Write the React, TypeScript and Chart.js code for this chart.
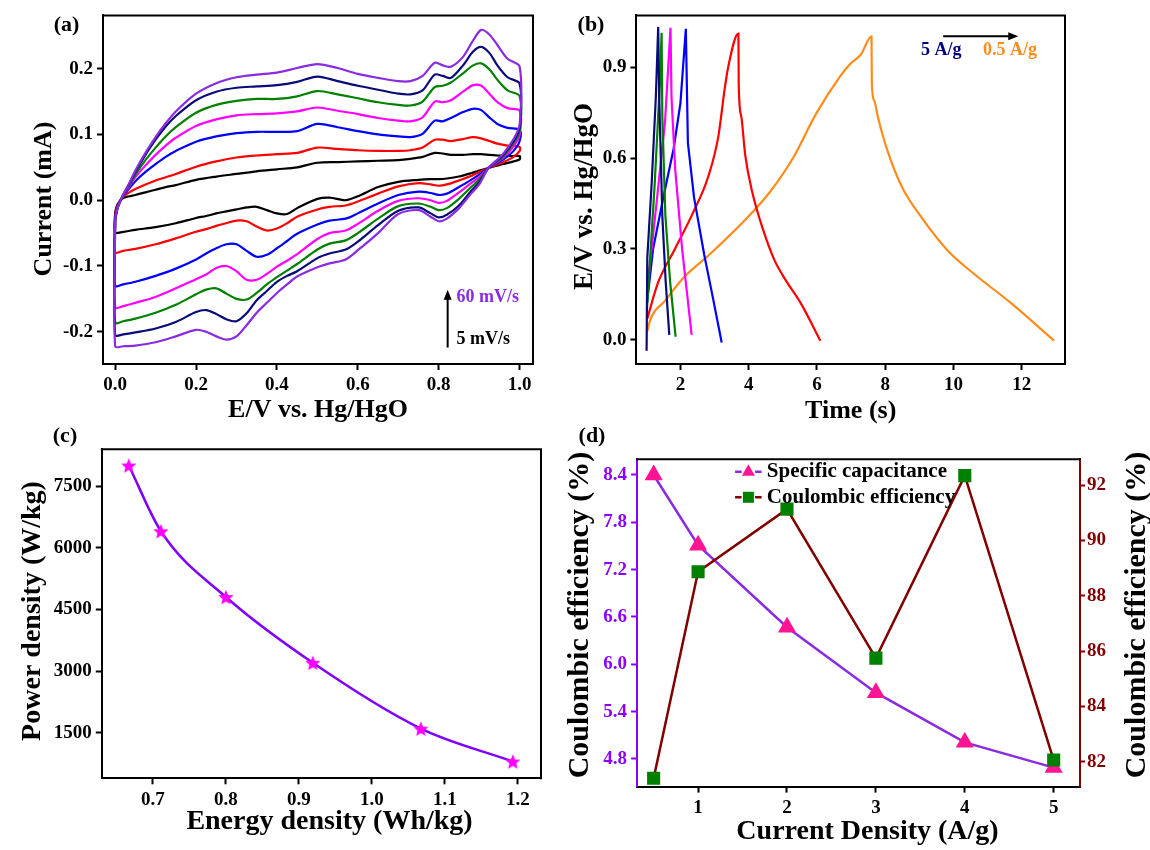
import React, { useEffect, useRef } from "react";
import { Chart, registerables } from "chart.js";

Chart.register(...registerables);

const FONT = "'Liberation Serif', 'Times New Roman', Times, serif";

// ---------------- (a) Cyclic voltammetry ----------------
const CV_UP_E = [0, 0.006, 0.019, 0.035, 0.05, 0.075, 0.1, 0.125, 0.15, 0.2, 0.25, 0.3, 0.35, 0.4, 0.45, 0.5, 0.55, 0.6, 0.65, 0.7, 0.73, 0.76, 0.79, 0.81, 0.83, 0.86, 0.885, 0.905, 0.925, 0.945, 0.97, 1.0];
const CV_DN_E = [1.0, 0.985, 0.96, 0.94, 0.9225, 0.9, 0.88, 0.85, 0.82, 0.8, 0.78, 0.75, 0.7, 0.65, 0.6, 0.57, 0.53, 0.5, 0.45, 0.425, 0.4, 0.375, 0.35, 0.325, 0.3, 0.275, 0.25, 0.225, 0.2, 0.15, 0.1, 0.05, 0.02, 0.0];

const CV_BLACK_UP = [-0.018, -0.006, 0.003, 0.006, 0.008, 0.012, 0.016, 0.02, 0.023, 0.031, 0.036, 0.04, 0.044, 0.047, 0.05, 0.057, 0.058, 0.059, 0.06, 0.061, 0.063, 0.066, 0.072, 0.071, 0.069, 0.069, 0.07, 0.07, 0.069, 0.068, 0.067, 0.067];
const CV_BLACK_DN = [0.062, 0.059, 0.055, 0.052, 0.049, 0.045, 0.041, 0.036, 0.033, 0.032, 0.032, 0.031, 0.028, 0.02, 0.006, 0.0, 0.004, 0.002, -0.012, -0.021, -0.02, -0.015, -0.01, -0.011, -0.014, -0.017, -0.02, -0.024, -0.027, -0.035, -0.041, -0.045, -0.048, -0.049];

const CV_RED_UP = [-0.022, -0.008, 0.005, 0.012, 0.017, 0.024, 0.03, 0.035, 0.04, 0.051, 0.059, 0.065, 0.068, 0.07, 0.072, 0.08, 0.078, 0.076, 0.075, 0.075, 0.076, 0.08, 0.092, 0.092, 0.09, 0.093, 0.096, 0.094, 0.09, 0.086, 0.083, 0.081];
const CV_RED_DN = [0.075, 0.066, 0.058, 0.053, 0.049, 0.043, 0.037, 0.03, 0.024, 0.022, 0.024, 0.026, 0.021, 0.01, -0.002, -0.008, -0.01, -0.014, -0.025, -0.035, -0.043, -0.046, -0.04, -0.032, -0.031, -0.035, -0.039, -0.044, -0.048, -0.058, -0.067, -0.074, -0.077, -0.079];

const CV_BLUE_UP = [-0.026, -0.01, 0.006, 0.018, 0.029, 0.043, 0.055, 0.066, 0.075, 0.089, 0.097, 0.102, 0.104, 0.104, 0.105, 0.116, 0.111, 0.105, 0.1, 0.097, 0.096, 0.101, 0.121, 0.12, 0.125, 0.134, 0.139, 0.137, 0.126, 0.116, 0.11, 0.107];
const CV_BLUE_DN = [0.09, 0.075, 0.062, 0.055, 0.049, 0.039, 0.031, 0.02, 0.01, 0.008, 0.011, 0.013, 0.008, -0.005, -0.02, -0.028, -0.031, -0.037, -0.051, -0.062, -0.073, -0.083, -0.086, -0.077, -0.067, -0.067, -0.073, -0.081, -0.09, -0.104, -0.115, -0.124, -0.128, -0.13];

const CV_MAGENTA_UP = [-0.028, -0.011, 0.006, 0.021, 0.035, 0.053, 0.069, 0.083, 0.095, 0.113, 0.123, 0.129, 0.131, 0.132, 0.135, 0.141, 0.136, 0.131, 0.125, 0.121, 0.12, 0.126, 0.15, 0.149, 0.152, 0.165, 0.175, 0.174, 0.162, 0.149, 0.14, 0.136];
const CV_MAGENTA_DN = [0.1, 0.082, 0.065, 0.056, 0.049, 0.035, 0.026, 0.012, -0.001, -0.004, 0.0, 0.003, -0.001, -0.016, -0.036, -0.046, -0.05, -0.059, -0.082, -0.092, -0.101, -0.112, -0.121, -0.121, -0.108, -0.1, -0.103, -0.113, -0.12, -0.134, -0.147, -0.156, -0.161, -0.163];

const CV_GREEN_UP = [-0.03, -0.012, 0.007, 0.023, 0.039, 0.061, 0.08, 0.097, 0.111, 0.133, 0.145, 0.151, 0.154, 0.154, 0.158, 0.166, 0.161, 0.155, 0.149, 0.145, 0.144, 0.15, 0.172, 0.174, 0.179, 0.193, 0.205, 0.208, 0.199, 0.183, 0.167, 0.158];
const CV_GREEN_DN = [0.105, 0.087, 0.067, 0.057, 0.049, 0.031, 0.02, 0.002, -0.012, -0.015, -0.01, -0.005, -0.009, -0.028, -0.05, -0.061, -0.066, -0.075, -0.097, -0.107, -0.117, -0.128, -0.141, -0.151, -0.15, -0.142, -0.134, -0.136, -0.143, -0.159, -0.171, -0.18, -0.184, -0.186];

const CV_NAVY_UP = [-0.03, -0.012, 0.007, 0.025, 0.043, 0.069, 0.092, 0.112, 0.128, 0.152, 0.165, 0.171, 0.173, 0.175, 0.18, 0.188, 0.181, 0.174, 0.168, 0.162, 0.161, 0.167, 0.191, 0.189, 0.186, 0.205, 0.226, 0.233, 0.224, 0.205, 0.187, 0.177];
const CV_NAVY_DN = [0.11, 0.09, 0.069, 0.058, 0.049, 0.027, 0.014, -0.008, -0.022, -0.026, -0.02, -0.011, -0.016, -0.038, -0.063, -0.075, -0.081, -0.088, -0.108, -0.115, -0.124, -0.138, -0.152, -0.172, -0.184, -0.181, -0.173, -0.167, -0.17, -0.185, -0.195, -0.201, -0.204, -0.205];

const CV_PURPLE_UP = [-0.03, -0.012, 0.007, 0.026, 0.045, 0.072, 0.096, 0.117, 0.135, 0.162, 0.178, 0.187, 0.191, 0.194, 0.201, 0.207, 0.201, 0.192, 0.186, 0.181, 0.181, 0.189, 0.209, 0.205, 0.203, 0.218, 0.243, 0.259, 0.252, 0.236, 0.215, 0.203];
const CV_PURPLE_DN = [0.115, 0.093, 0.071, 0.059, 0.049, 0.024, 0.01, -0.012, -0.028, -0.032, -0.025, -0.015, -0.021, -0.05, -0.076, -0.09, -0.096, -0.102, -0.116, -0.128, -0.141, -0.156, -0.171, -0.19, -0.207, -0.212, -0.207, -0.2, -0.197, -0.207, -0.216, -0.221, -0.222, -0.222];

const A_X_TICKS = [0, 0.2, 0.4, 0.6, 0.8, 1.0];
const A_Y_TICKS = [-0.2, -0.1, 0, 0.1, 0.2];
const A_NOTE_TEXTS = ["60 mV/s", "5 mV/s"];
const A_NOTE_E = [0.844, 0.844];
const A_NOTE_I = [-0.148, -0.212];
const A_ARROW_E = 0.822;
const A_ARROW_I = [-0.224, -0.136];

// ---------------- (b) Galvanostatic charge-discharge ----------------
const GCD_ORANGE_T = [1.04, 1.1, 1.56, 2.11, 2.88, 3.98, 4.65, 5.31, 5.97, 6.69, 6.96, 7.29, 7.6, 7.61, 7.68, 7.79, 8.07, 8.5, 9.06, 9.83, 10.6, 11.7, 12.95];
const GCD_ORANGE_E = [0.03, 0.06, 0.13, 0.207, 0.284, 0.405, 0.492, 0.602, 0.745, 0.871, 0.909, 0.942, 1.002, 0.845, 0.79, 0.734, 0.624, 0.503, 0.405, 0.295, 0.218, 0.12, -0.003];
const GCD_RED_T = [1.03, 1.35, 1.84, 2.33, 2.82, 3.11, 3.3, 3.4, 3.7, 3.71, 3.78, 3.9, 4.1, 4.43, 4.76, 5.09, 5.53, 6.1];
const GCD_RED_E = [0.07, 0.19, 0.3, 0.41, 0.54, 0.67, 0.83, 0.9, 1.011, 0.84, 0.74, 0.61, 0.49, 0.361, 0.262, 0.196, 0.12, -0.003];
const GCD_BLUE_T = [1.02, 1.2, 1.5, 1.8, 2.0, 2.16, 2.18, 2.22, 2.4, 2.7, 2.95, 3.21];
const GCD_BLUE_E = [0.12, 0.3, 0.47, 0.63, 0.78, 1.027, 0.9, 0.65, 0.47, 0.28, 0.14, -0.009];
const GCD_MAGENTA_T = [1.02, 1.3, 1.55, 1.71, 1.74, 1.85, 2.05, 2.33];
const GCD_MAGENTA_E = [0.16, 0.45, 0.72, 1.03, 0.8, 0.56, 0.3, 0.016];
const GCD_GREEN_T = [1.02, 1.25, 1.4, 1.45, 1.47, 1.56, 1.7, 1.86];
const GCD_GREEN_E = [0.1, 0.52, 0.85, 1.014, 0.74, 0.41, 0.19, 0.01];
const GCD_NAVY_T = [1.01, 1.03, 1.16, 1.28, 1.35, 1.38, 1.47, 1.57, 1.675];
const GCD_NAVY_E = [-0.036, 0.27, 0.52, 0.8, 1.033, 0.8, 0.41, 0.19, 0.016];

const B_X_TICKS = [2, 4, 6, 8, 10, 12];
const B_Y_TICKS = [0, 0.3, 0.6, 0.9];
const B_NOTE_TEXTS = ["5 A/g", "0.5 A/g"];
const B_NOTE_T = [9.645, 11.66];
const B_NOTE_E = 0.956;
const B_ARROW_T = [9.7, 11.9];
const B_ARROW_E = 1.002;

// ---------------- (c) Ragone ----------------
const ENERGY_DENSITY = [0.667, 0.711, 0.8, 0.919, 1.067, 1.193];
const POWER_DENSITY = [8000, 6400, 4800, 3200, 1600, 800];
const C_X_TICKS = [0.7, 0.8, 0.9, 1.0, 1.1, 1.2];
const C_Y_TICKS = [1500, 3000, 4500, 6000, 7500];

// ---------------- (d) rate performance ----------------
const CURRENT_DENSITY = [0.5, 1, 2, 3, 4, 5];
const SPECIFIC_CAP = [8.4, 7.51, 6.47, 5.64, 5.01, 4.69];
const COULOMBIC_EFF = [81.41, 88.87, 91.13, 85.75, 92.34, 82.07];
const D_X_TICKS = [1, 2, 3, 4, 5];
const D_YL_TICKS = [4.8, 5.4, 6.0, 6.6, 7.2, 7.8, 8.4];
const D_YR_TICKS = [82, 84, 86, 88, 90, 92];
const D_LEGEND = ["Specific capacitance", "Coulombic efficiency"];

// ---------------- styles ----------------
const COL = {
  black: "#000000",
  red: "#ff0000",
  blue: "#0000ff",
  magenta: "#ff00ff",
  green: "#008000",
  navy: "#0a0a78",
  purple: "#8a2be2",
  orange: "#ff8c1a",
  violet: "#8000ff",
  axisPurple: "#8b00ff",
  maroon: "#800000",
  pink: "#ff1493",
};

const TICK_FONT = { family: FONT, size: 19, weight: "bold" as const };

const zip = (xs: number[], ys: number[]) => xs.map((x, i) => ({ x, y: ys[i] }));

type AxisOpts = {
  position: "left" | "right" | "bottom";
  min: number;
  max: number;
  ticks: number[];
  decimals: number;
  size: number;
  color?: string;
  tickLength?: number;
  tickPad?: number;
};

function makeAxis(o: AxisOpts): any {
  const color = o.color ?? "#000";
  return {
    type: "linear",
    position: o.position,
    min: o.min,
    max: o.max,
    afterBuildTicks: (s: any) => {
      s.ticks = o.ticks.map((v) => ({ value: v }));
    },
    afterFit: (s: any) => {
      if (o.position === "bottom") s.height = o.size;
      else s.width = o.size;
    },
    ticks: {
      callback: (v: any) => Number(v).toFixed(o.decimals),
      font: TICK_FONT,
      color,
      padding: o.tickPad ?? 4,
      autoSkip: false,
      maxRotation: 0,
    },
    grid: {
      display: true,
      drawOnChartArea: false,
      drawTicks: true,
      tickLength: o.tickLength ?? 6,
      tickWidth: 2,
      tickColor: color,
      color,
    },
    border: { display: true, color, width: 2 },
    title: { display: false },
  };
}

const framePlugin = (top: boolean, right: boolean) => ({
  id: "frame",
  afterDatasetsDraw(chart: any) {
    const { ctx, chartArea: a } = chart;
    ctx.save();
    ctx.strokeStyle = "#000";
    ctx.lineWidth = 2;
    ctx.beginPath();
    if (top) {
      ctx.moveTo(a.left - 1, a.top);
      ctx.lineTo(a.right + 1, a.top);
    }
    if (right) {
      ctx.moveTo(a.right, a.top - 1);
      ctx.lineTo(a.right, a.bottom + 1);
    }
    ctx.stroke();
    ctx.restore();
  },
});

type TextSpec = { text: string; x: number; y: number; size: number; rot?: number };

// axis titles and panel letters, in canvas pixels
const textPlugin = (items: TextSpec[]) => ({
  id: "texts",
  afterDraw(chart: any) {
    const ctx = chart.ctx;
    items.forEach((t) => {
      ctx.save();
      ctx.translate(t.x, t.y);
      if (t.rot) ctx.rotate(t.rot);
      ctx.font = `bold ${t.size}px ${FONT}`;
      ctx.fillStyle = "#000";
      ctx.textAlign = "center";
      ctx.textBaseline = "middle";
      ctx.fillText(t.text, 0, 0);
      ctx.restore();
    });
  },
});

const UP = -Math.PI / 2;

function drawArrow(ctx: CanvasRenderingContext2D, x1: number, y1: number, x2: number, y2: number, color: string) {
  const head = 10;
  const half = 4;
  const ang = Math.atan2(y2 - y1, x2 - x1);
  const c = Math.cos(ang);
  const s = Math.sin(ang);
  ctx.save();
  ctx.strokeStyle = color;
  ctx.fillStyle = color;
  ctx.lineWidth = 2;
  ctx.beginPath();
  ctx.moveTo(x1, y1);
  ctx.lineTo(x2 - head * 0.7 * c, y2 - head * 0.7 * s);
  ctx.stroke();
  ctx.beginPath();
  ctx.moveTo(x2, y2);
  ctx.lineTo(x2 - head * c + half * s, y2 - head * s - half * c);
  ctx.lineTo(x2 - head * c - half * s, y2 - head * s + half * c);
  ctx.closePath();
  ctx.fill();
  ctx.restore();
}

function makeStar(r: number, color: string): HTMLCanvasElement {
  const size = Math.ceil(r * 2 + 2);
  const c = document.createElement("canvas");
  c.width = size;
  c.height = size;
  const ctx = c.getContext("2d")!;
  ctx.fillStyle = color;
  ctx.beginPath();
  for (let i = 0; i < 10; i++) {
    const rad = i % 2 === 0 ? r : r * 0.45;
    const a = -Math.PI / 2 + (i * Math.PI) / 5;
    const x = size / 2 + rad * Math.cos(a);
    const y = size / 2 + rad * Math.sin(a) + 0.8;
    if (i === 0) ctx.moveTo(x, y);
    else ctx.lineTo(x, y);
  }
  ctx.closePath();
  ctx.fill();
  return c;
}

// ---------------- chart configs ----------------
function configA(): any {
  const series = [
    { label: "black", color: COL.black, up: CV_BLACK_UP, dn: CV_BLACK_DN },
    { label: "red", color: COL.red, up: CV_RED_UP, dn: CV_RED_DN },
    { label: "blue", color: COL.blue, up: CV_BLUE_UP, dn: CV_BLUE_DN },
    { label: "magenta", color: COL.magenta, up: CV_MAGENTA_UP, dn: CV_MAGENTA_DN },
    { label: "green", color: COL.green, up: CV_GREEN_UP, dn: CV_GREEN_DN },
    { label: "navy", color: COL.navy, up: CV_NAVY_UP, dn: CV_NAVY_DN },
    { label: "purple", color: COL.purple, up: CV_PURPLE_UP, dn: CV_PURPLE_DN },
  ];
  const notes = {
    id: "notesA",
    afterDraw(chart: any) {
      const { ctx, scales } = chart;
      const xs = scales.x;
      const ys = scales.y;
      const ax = xs.getPixelForValue(A_ARROW_E);
      drawArrow(ctx, ax, ys.getPixelForValue(A_ARROW_I[0]), ax, ys.getPixelForValue(A_ARROW_I[1]), "#000");
      ctx.save();
      ctx.font = `bold 18px ${FONT}`;
      ctx.textAlign = "left";
      ctx.textBaseline = "middle";
      const colors = [COL.purple, "#000"];
      A_NOTE_TEXTS.forEach((t, i) => {
        ctx.fillStyle = colors[i];
        ctx.fillText(t, xs.getPixelForValue(A_NOTE_E[i]), ys.getPixelForValue(A_NOTE_I[i]));
      });
      ctx.restore();
    },
  };
  return {
    type: "scatter",
    data: {
      datasets: series.map((s, i) => ({
        label: s.label,
        data: [...zip(CV_UP_E, s.up), ...zip(CV_DN_E, s.dn), { x: CV_UP_E[0], y: s.up[0] }],
        showLine: true,
        borderColor: s.color,
        borderWidth: 2.2,
        pointRadius: 0,
        tension: 0.3,
        order: series.length - i,
      })),
    },
    options: {
      responsive: false,
      animation: false,
      layout: { padding: { left: 28, top: 14, right: 27, bottom: 0 } },
      plugins: { legend: { display: false }, tooltip: { enabled: false } },
      scales: {
        x: makeAxis({ position: "bottom", min: -0.03, max: 1.033, ticks: A_X_TICKS, decimals: 1, size: 61 }),
        y: makeAxis({ position: "left", min: -0.249, max: 0.281, ticks: A_Y_TICKS, decimals: 1, size: 75 }),
      },
    },
    plugins: [
      framePlugin(true, true),
      notes,
      textPlugin([
        { text: "(a)", x: 66.5, y: 25, size: 22 },
        { text: "E/V vs. Hg/HgO", x: 318, y: 410, size: 26 },
        { text: "Current (mA)", x: 44, y: 199, size: 26, rot: UP },
      ]),
    ],
  };
}

function configB(): any {
  const series = [
    { label: "0.5 A/g", color: COL.orange, t: GCD_ORANGE_T, e: GCD_ORANGE_E, smooth: true },
    { label: "red", color: COL.red, t: GCD_RED_T, e: GCD_RED_E, smooth: true },
    { label: "blue", color: COL.blue, t: GCD_BLUE_T, e: GCD_BLUE_E, smooth: false },
    { label: "magenta", color: COL.magenta, t: GCD_MAGENTA_T, e: GCD_MAGENTA_E, smooth: false },
    { label: "green", color: COL.green, t: GCD_GREEN_T, e: GCD_GREEN_E, smooth: false },
    { label: "5 A/g", color: COL.navy, t: GCD_NAVY_T, e: GCD_NAVY_E, smooth: false },
  ];
  const notes = {
    id: "notesB",
    afterDraw(chart: any) {
      const { ctx, scales } = chart;
      const xs = scales.x;
      const ys = scales.y;
      const ay = ys.getPixelForValue(B_ARROW_E);
      drawArrow(ctx, xs.getPixelForValue(B_ARROW_T[0]), ay, xs.getPixelForValue(B_ARROW_T[1]), ay, "#000");
      ctx.save();
      ctx.font = `bold 18px ${FONT}`;
      ctx.textAlign = "center";
      ctx.textBaseline = "middle";
      const colors = ["#000080", COL.orange];
      B_NOTE_TEXTS.forEach((t, i) => {
        ctx.fillStyle = colors[i];
        ctx.fillText(t, xs.getPixelForValue(B_NOTE_T[i]), ys.getPixelForValue(B_NOTE_E));
      });
      ctx.restore();
    },
  };
  return {
    type: "scatter",
    data: {
      datasets: series.map((s, i) => ({
        label: s.label,
        data: zip(s.t, s.e),
        showLine: true,
        borderColor: s.color,
        borderWidth: 2.2,
        pointRadius: 0,
        tension: s.smooth ? 0.4 : 0,
        cubicInterpolationMode: s.smooth ? "monotone" : "default",
        order: series.length - i,
      })),
    },
    options: {
      responsive: false,
      animation: false,
      layout: { padding: { left: 8, top: 14, right: 85, bottom: 0 } },
      plugins: { legend: { display: false }, tooltip: { enabled: false } },
      scales: {
        x: makeAxis({ position: "bottom", min: 0.711, max: 13.27, ticks: B_X_TICKS, decimals: 0, size: 61 }),
        y: makeAxis({ position: "left", min: -0.08, max: 1.071, ticks: B_Y_TICKS, decimals: 1, size: 68.4 }),
      },
    },
    plugins: [
      framePlugin(true, true),
      notes,
      textPlugin([
        { text: "(b)", x: 31, y: 25, size: 22 },
        { text: "Time (s)", x: 290.7, y: 411, size: 26 },
        { text: "E/V vs. Hg/HgO", x: 25, y: 196.5, size: 27, rot: UP },
      ]),
    ],
  };
}

function configC(): any {
  const star = makeStar(8, COL.magenta);
  return {
    type: "scatter",
    data: {
      datasets: [
        {
          label: "Power density",
          data: zip(ENERGY_DENSITY, POWER_DENSITY),
          showLine: true,
          borderColor: COL.violet,
          borderWidth: 2.5,
          pointStyle: star,
          pointRadius: 8,
          tension: 0.4,
          cubicInterpolationMode: "monotone",
        },
      ],
    },
    options: {
      responsive: false,
      animation: false,
      layout: { padding: { left: 16.4, top: 24.3, right: 19, bottom: 12.7 } },
      plugins: { legend: { display: false }, tooltip: { enabled: false } },
      scales: {
        x: makeAxis({ position: "bottom", min: 0.63, max: 1.2316, ticks: C_X_TICKS, decimals: 1, size: 59 }),
        y: makeAxis({ position: "left", min: 391, max: 8393, ticks: C_Y_TICKS, decimals: 0, size: 85.4 }),
      },
    },
    plugins: [
      framePlugin(true, true),
      textPlugin([
        { text: "(c)", x: 65, y: 11, size: 22 },
        { text: "Energy density (Wh/kg)", x: 329.5, y: 397, size: 28 },
        { text: "Power density (W/kg)", x: 33, y: 186, size: 28, rot: UP },
      ]),
    ],
  };
}

function configD(): any {
  const legend = {
    id: "legendD",
    afterDraw(chart: any) {
      const { ctx, chartArea: a } = chart;
      const x0 = a.left + 98;
      const rows = [a.top + 12.4, a.top + 38];
      const lineCols = [COL.purple, COL.maroon];
      ctx.save();
      rows.forEach((y, i) => {
        ctx.strokeStyle = lineCols[i];
        ctx.lineWidth = 2.5;
        ctx.beginPath();
        ctx.moveTo(x0, y);
        ctx.lineTo(x0 + 6.5, y);
        ctx.moveTo(x0 + 20, y);
        ctx.lineTo(x0 + 26.5, y);
        ctx.stroke();
        const mx = x0 + 13.3;
        if (i === 0) {
          ctx.fillStyle = COL.pink;
          ctx.beginPath();
          ctx.moveTo(mx, y - 7.5);
          ctx.lineTo(mx + 6.5, y + 4);
          ctx.lineTo(mx - 6.5, y + 4);
          ctx.closePath();
          ctx.fill();
        } else {
          ctx.fillStyle = COL.green;
          ctx.fillRect(mx - 5.5, y - 5.5, 11, 11);
        }
        ctx.fillStyle = "#000";
        ctx.font = `bold 21px ${FONT}`;
        ctx.textAlign = "left";
        ctx.textBaseline = "middle";
        ctx.fillText(D_LEGEND[i], x0 + 31.7, y);
      });
      ctx.restore();
    },
  };
  return {
    type: "scatter",
    data: {
      datasets: [
        {
          label: D_LEGEND[1],
          data: zip(CURRENT_DENSITY, COULOMBIC_EFF),
          yAxisID: "yR",
          showLine: true,
          borderColor: COL.maroon,
          borderWidth: 2.5,
          pointStyle: "rect",
          pointRadius: 7.5,
          pointBackgroundColor: COL.green,
          pointBorderColor: COL.green,
          tension: 0,
          order: 0,
        },
        {
          label: D_LEGEND[0],
          data: zip(CURRENT_DENSITY, SPECIFIC_CAP),
          yAxisID: "yL",
          showLine: true,
          borderColor: COL.purple,
          borderWidth: 2.5,
          pointStyle: "triangle",
          pointRadius: 8,
          pointBackgroundColor: COL.pink,
          pointBorderColor: COL.pink,
          tension: 0,
          order: 1,
        },
      ],
    },
    options: {
      responsive: false,
      animation: false,
      layout: { padding: { left: 3.4, top: 34.3, right: 0, bottom: 3.4 } },
      plugins: { legend: { display: false }, tooltip: { enabled: false } },
      scales: {
        x: makeAxis({ position: "bottom", min: 0.314, max: 5.296, ticks: D_X_TICKS, decimals: 0, size: 60 }),
        yL: makeAxis({ position: "left", min: 4.449, max: 8.599, ticks: D_YL_TICKS, decimals: 1, size: 73.7, color: COL.axisPurple }),
        yR: makeAxis({ position: "right", min: 81.11, max: 92.93, ticks: D_YR_TICKS, decimals: 0, size: 70, color: COL.maroon, tickLength: 5, tickPad: 2 }),
      },
    },
    plugins: [
      framePlugin(true, false),
      legend,
      textPlugin([
        { text: "(d)", x: 32, y: 11, size: 22 },
        { text: "Current Density (A/g)", x: 307.5, y: 407, size: 28 },
        { text: "Coulombic efficiency (%)", x: 20, y: 190, size: 30, rot: UP },
        { text: "Coulombic efficiency (%)", x: 577, y: 190, size: 30, rot: UP },
      ]),
    ],
  };
}

function ChartCanvas(props: { left: number; top: number; width: number; height: number; make: () => any }) {
  const ref = useRef<HTMLCanvasElement | null>(null);
  useEffect(() => {
    if (!ref.current) return;
    const chart = new Chart(ref.current, props.make());
    return () => chart.destroy();
  }, []);
  return (
    <canvas
      ref={ref}
      width={props.width}
      height={props.height}
      style={{ position: "absolute", left: props.left, top: props.top, width: props.width, height: props.height }}
    />
  );
}

export default function App() {
  return (
    <div style={{ position: "absolute", left: 0, top: 0, width: 1150, height: 850, background: "#fff", overflow: "hidden" }}>
      <ChartCanvas left={0} top={0} width={560} height={425} make={configA} />
      <ChartCanvas left={560} top={0} width={590} height={425} make={configB} />
      <ChartCanvas left={0} top={425} width={560} height={425} make={configC} />
      <ChartCanvas left={560} top={425} width={590} height={425} make={configD} />
    </div>
  );
}
